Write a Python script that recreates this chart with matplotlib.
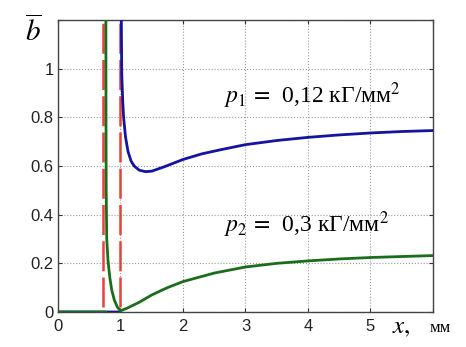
import matplotlib
matplotlib.use('Agg')
import matplotlib.pyplot as plt
import numpy as np

plt.rcParams['mathtext.fontset'] = 'stix'

nan = np.nan

# curve for p1 = 0.12 (blue); nan splits the zero part from the branch
x1 = [0.0, 1.0, nan, 1.012, 1.02, 1.035, 1.05, 1.08, 1.12, 1.17, 1.22, 1.3, 1.4, 1.5,
      1.7, 2.0, 2.3, 2.6, 3.0, 3.5, 4.0, 4.5, 5.0, 5.5, 6.0]
y1 = [0.0, 0.0, nan, 1.25, 0.98, 0.87, 0.8, 0.72, 0.66, 0.62, 0.6, 0.583, 0.577, 0.579,
      0.597, 0.627, 0.65, 0.667, 0.688, 0.705, 0.718, 0.728, 0.736, 0.742, 0.746]

# curve for p2 = 0.3 (green)
x2 = [0.0, 0.765, nan, 0.766, 0.768, 0.771, 0.78, 0.8, 0.83, 0.86, 0.9, 0.95, 1.0,
      1.1, 1.3, 1.5, 1.75, 2.0, 2.5, 3.0, 3.5, 4.0, 4.5, 5.0, 5.5, 6.0]
y2 = [0.0, 0.0, nan, 1.25, 0.8, 0.5, 0.3, 0.21, 0.14, 0.09, 0.05, 0.02, 0.005,
      0.015, 0.04, 0.07, 0.1, 0.125, 0.16, 0.185, 0.2, 0.21, 0.218, 0.224, 0.228, 0.232]

# asymptotes
x_dash = [0.72, 1.0]

fig = plt.figure(figsize=(4.66, 3.47), dpi=100)
ax = fig.add_axes([0.1245, 0.1009, 0.8045, 0.8411])

for xd in x_dash:
    ax.plot([xd, xd], [0.02, 1.2], color='#e8403a', lw=1.8, dashes=(12, 2.5), zorder=3)
ax.plot(x1, y1, color='#1414a0', lw=2.0, zorder=4)
ax.plot(x2, y2, color='#1a6e1a', lw=2.0, zorder=5)

ax.set_xlim(0, 6)
ax.set_ylim(0, 1.2)
ax.set_xticks([0, 1, 2, 3, 4, 5, 6])
ax.set_xticklabels(['0', '1', '2', '3', '4', '5', ''])
ax.set_yticks([0, 0.2, 0.4, 0.6, 0.8, 1.0, 1.2])
ax.set_yticklabels(['0', '0.2', '0.4', '0.6', '0.8', '1', ''])
ax.grid(True, linestyle=':', color='#9a9a9a', lw=0.8)
ax.tick_params(direction='in', top=True, right=True, length=3, labelsize=12,
               colors='#333333', labelcolor='#222222')
ax.tick_params(axis='x', pad=5)
ax.tick_params(axis='y', pad=3)
for lab in ax.get_xticklabels() + ax.get_yticklabels():
    lab.set_family('Liberation Sans')
for s in ax.spines.values():
    s.set_color('#444444')
    s.set_linewidth(1.0)

fig.text(0.072, 0.882, r'$\overline{b}$', fontsize=21, ha='center', va='baseline')
fig.text(0.862, 0.04, r'$x,$', fontsize=18, ha='center', va='baseline')
fig.text(0.944, 0.043, 'мм', fontsize=12, family='Liberation Serif', ha='center', va='baseline')

ax.text(2.65, 0.86, r'$p_1\,=\,$' + ' 0,12 кГ/мм' + r'$^2$', fontsize=17,
        family='Liberation Serif', va='baseline')
ax.text(2.65, 0.33, r'$p_2\,=\,$' + ' 0,3 кГ/мм' + r'$^2$', fontsize=17,
        family='Liberation Serif', va='baseline')

fig.savefig('out.png', dpi=100)
